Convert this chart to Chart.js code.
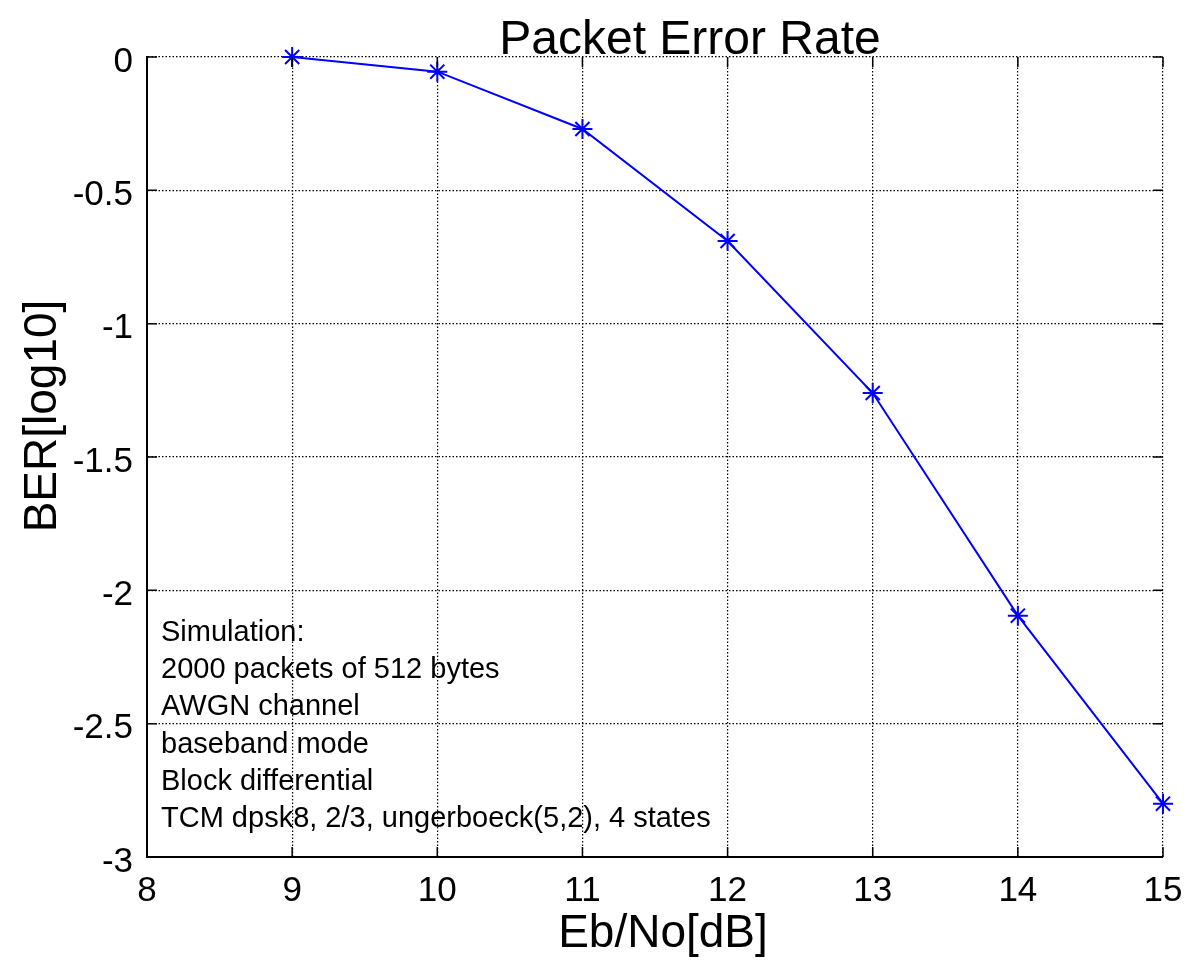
<!DOCTYPE html>
<html><head><meta charset="utf-8">
<script src="https://cdn.jsdelivr.net/npm/chart.js@4"></script>
<style>html,body{margin:0;padding:0;background:#fff}canvas{display:block}</style>
</head><body>
<canvas id="c" width="1192" height="961"></canvas>
<script>
const ebnoDb = [9, 10, 11, 12, 13, 14, 15];
const berLog10 = [0, -0.055, -0.27, -0.69, -1.26, -2.095, -2.8];
const xTicks = [8, 9, 10, 11, 12, 13, 14, 15];
const xTickLabels = ['8', '9', '10', '11', '12', '13', '14', '15'];
const yTicks = [0, -0.5, -1, -1.5, -2, -2.5, -3];
const yTickLabels = ['0', '-0.5', '-1', '-1.5', '-2', '-2.5', '-3'];
const titleText = 'Packet Error Rate';
const xTitleText = 'Eb/No[dB]';
const yTitleText = 'BER[log10]';
const noteLines = [
  'Simulation:',
  '2000 packets of 512 bytes',
  'AWGN channel',
  'baseband mode',
  'Block differential',
  'TCM dpsk8, 2/3, ungerboeck(5,2), 4 states'
];

const FONT = '"Liberation Sans", Arial, sans-serif';

const points = ebnoDb.map((x, i) => ({ x: x, y: berLog10[i] }));

const decor = {
  id: 'decor',
  afterDraw(chart) {
    const ctx = chart.ctx;
    const xs = chart.scales.x, ys = chart.scales.y;
    const a = chart.chartArea;
    ctx.save();
    // inward tick marks
    ctx.strokeStyle = '#000';
    ctx.lineWidth = 1.5;
    ctx.setLineDash([]);
    const tl = 10;
    ctx.beginPath();
    xTicks.forEach(v => {
      const px = xs.getPixelForValue(v);
      ctx.moveTo(px, a.bottom); ctx.lineTo(px, a.bottom - tl);
      ctx.moveTo(px, a.top); ctx.lineTo(px, a.top + tl);
    });
    yTicks.forEach(v => {
      const py = ys.getPixelForValue(v);
      ctx.moveTo(a.left, py); ctx.lineTo(a.left + tl, py);
      ctx.moveTo(a.right, py); ctx.lineTo(a.right - tl, py);
    });
    ctx.stroke();

    ctx.fillStyle = '#000';
    // title
    ctx.font = '48px ' + FONT;
    ctx.textAlign = 'center';
    ctx.textBaseline = 'alphabetic';
    ctx.fillText(titleText, 690, 54);
    // x title
    ctx.font = '46px ' + FONT;
    ctx.fillText(xTitleText, 663, 947);
    // y title
    ctx.save();
    ctx.translate(56, 416);
    ctx.rotate(-Math.PI / 2);
    ctx.fillText(yTitleText, 0, 0);
    ctx.restore();
    // notes
    ctx.font = '29px ' + FONT;
    ctx.textAlign = 'left';
    noteLines.forEach((t, i) => ctx.fillText(t, 161, 641 + i * 37.2));
    ctx.restore();
  }
};

new Chart(document.getElementById('c'), {
  type: 'line',
  data: {
    datasets: [{
      data: points,
      borderColor: '#0000ff',
      backgroundColor: '#0000ff',
      borderWidth: 2,
      pointStyle: 'star',
      pointRadius: 10,
      pointBorderWidth: 2,
      pointBorderColor: '#0000ff',
      tension: 0,
      fill: false,
      clip: false
    }]
  },
  options: {
    responsive: false,
    devicePixelRatio: 1,
    animation: false,
    events: [],
    layout: { padding: { left: 0, right: 29, top: 57, bottom: 0 } },
    plugins: { legend: { display: false }, tooltip: { enabled: false }, title: { display: false } },
    scales: {
      x: {
        type: 'linear',
        min: 8, max: 15,
        afterBuildTicks: s => { s.ticks = xTicks.map(v => ({ value: v })); },
        afterFit: s => { s.height = 104; s.paddingRight = 0; s.paddingLeft = 0; },
        ticks: {
          callback: (v) => xTickLabels[xTicks.indexOf(v)],
          font: { family: FONT, size: 35 },
          color: '#000',
          padding: 13,
          maxRotation: 0,
          autoSkip: false
        },
        grid: { color: '#000', lineWidth: 1.2, drawTicks: false },
        border: { display: true, color: '#000', width: 2, dash: [1.5, 2] }
      },
      y: {
        type: 'linear',
        min: -3, max: 0,
        afterBuildTicks: s => { s.ticks = yTicks.map(v => ({ value: v })); },
        afterFit: s => { s.width = 147; },
        ticks: {
          callback: (v) => yTickLabels[yTicks.indexOf(v)],
          font: { family: FONT, size: 35 },
          color: '#000',
          padding: 14,
          labelOffset: 5,
          autoSkip: false
        },
        grid: { color: '#000', lineWidth: 1.2, drawTicks: false },
        border: { display: true, color: '#000', width: 2, dash: [1.5, 2] }
      }
    }
  },
  plugins: [decor]
});
</script>
</body></html>
